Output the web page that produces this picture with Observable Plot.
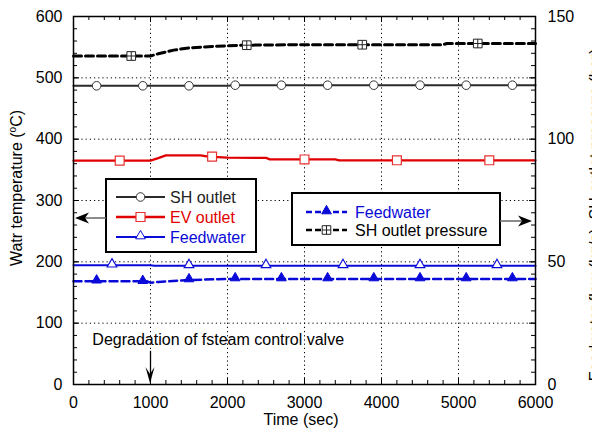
<!DOCTYPE html>
<html><head><meta charset="utf-8">
<script src="https://cdn.jsdelivr.net/npm/d3@7"></script>
<script src="https://cdn.jsdelivr.net/npm/@observablehq/plot@0.6"></script>
<style>
html,body{margin:0;padding:0;background:#fff;}
#chart{position:relative;width:592px;height:430px;overflow:hidden;}
</style></head><body><div id="chart"></div>
<script>
// ---- data ----
const xTicks = [0, 1000, 2000, 3000, 4000, 5000, 6000];
const leftTicks = [0, 100, 200, 300, 400, 500, 600];
const rightTicks = [0, 50, 100, 150];

const shOutTime = [0, 2000, 2100, 6000];
const shOutTemp = [487, 487, 488, 488];
const shOutMarkTime = [300, 900, 1500, 2100, 2700, 3300, 3900, 4500, 5100, 5700];
const shOutMarkTemp = [487, 487, 487, 488, 488, 488, 488, 488, 488, 488];

const evOutTime = [0, 1000, 1100, 1200, 1650, 1750, 2000, 2500, 2550, 3400, 3450, 6000];
const evOutTemp = [365, 365, 369, 373.5, 373.5, 371.5, 370, 369.5, 367, 367, 365.5, 365.5];
const evOutMarkTime = [600, 1800, 3000, 4200, 5400];
const evOutMarkTemp = [365, 371.5, 367, 365.5, 365.5];

const fwTempTime = [0, 1000, 1050, 6000];
const fwTemp = [194.5, 194.5, 193.5, 193.5];
const fwTempMarkTime = [500, 1500, 2500, 3500, 4500, 5500];
const fwTempMarkVal = [194.5, 193.5, 193.5, 193.5, 193.5, 193.5];

// right axis series (right-axis units)
const fwFlowTime = [0, 950, 1000, 1100, 1500, 2000, 6000];
const fwFlow = [42.1, 42.1, 41.5, 41.8, 42.6, 43, 43];
const fwFlowMarkTime = [300, 900, 1500, 2100, 2700, 3300, 3900, 4500, 5100, 5700];
const fwFlowMarkVal = [42.1, 41.9, 42.6, 43, 43, 43, 43, 43, 43, 43];

const shPresTime = [0, 1000, 1100, 1300, 1500, 1800, 2200, 3000, 4800, 4850, 6000];
const shPres = [133.9, 133.9, 134.8, 136.3, 137.2, 137.8, 138.3, 138.5, 138.5, 139, 139];
const shPresMarkTime = [750, 2250, 3750, 5250];
const shPresMarkVal = [133.9, 138.3, 138.5, 139];

const eventTime = [1000];
const eventArrowFrom = [55];
const eventArrowTo = [0];

// ---- layout ----
const W = 592, H = 430, mL = 73, mR = 57, mT = 16, mB = 46;
const plotW = W - mL - mR, plotH = H - mT - mB;
const K = 600 / 150; // right-axis to left-axis units
const FONT = '"Liberation Sans", Arial, Helvetica, sans-serif';

const tbl = (ts, vs, k = 1) => ts.map((t, i) => ({t, v: vs[i] * k}));
const yMinor = d3.range(0, 601, 20);
const yMajor = leftTicks;
const xMinor = d3.range(0, 6001, 200);
const xMajor = xTicks;

const COL_SH = "#2a2a2a", COL_EV = "#e00000", COL_BLUE = "#0a0ad8";

const crossSquare = {
  draw(ctx, size) {
    const r = Math.sqrt(size) / 2;
    ctx.moveTo(-r, -r); ctx.lineTo(r, -r); ctx.lineTo(r, r); ctx.lineTo(-r, r); ctx.closePath();
    ctx.moveTo(-r, 0); ctx.lineTo(r, 0);
    ctx.moveTo(0, -r); ctx.lineTo(0, r);
  }
};

const plot = Plot.plot({
  width: W, height: H,
  marginLeft: mL, marginRight: mR, marginTop: mT, marginBottom: mB,
  style: {fontSize: "16px", fontFamily: FONT, background: "#fff", color: "#000"},
  x: {domain: [0, 6000], axis: null},
  y: {domain: [0, 600], axis: null},
  marks: [
    Plot.gridY(leftTicks.filter(d => d > 0 && d < 600), {stroke: "#000", strokeOpacity: 1, strokeWidth: 1, strokeDasharray: "1.2,3"}),
    Plot.gridX(xTicks.filter(d => d > 0 && d < 6000), {stroke: "#000", strokeOpacity: 1, strokeWidth: 1, strokeDasharray: "1.2,3"}),
    // inward ticks
    Plot.tickY(yMinor, {y: d => d, insetRight: plotW - 4, stroke: "#000"}),
    Plot.tickY(yMinor, {y: d => d, insetLeft: plotW - 4, stroke: "#000"}),
    Plot.tickY(yMajor, {y: d => d, insetRight: plotW - 6, stroke: "#000"}),
    Plot.tickY(yMajor, {y: d => d, insetLeft: plotW - 6, stroke: "#000"}),
    Plot.tickX(xMinor, {x: d => d, insetTop: plotH - 4, stroke: "#000"}),
    Plot.tickX(xMinor, {x: d => d, insetBottom: plotH - 4, stroke: "#000"}),
    Plot.tickX(xMajor, {x: d => d, insetTop: plotH - 6, stroke: "#000"}),
    Plot.tickX(xMajor, {x: d => d, insetBottom: plotH - 6, stroke: "#000"}),
    // series lines
    Plot.line(tbl(shPresTime, shPres, K), {x: "t", y: "v", stroke: "#000", strokeWidth: 3, strokeDasharray: "8,4"}),
    Plot.line(tbl(shOutTime, shOutTemp), {x: "t", y: "v", stroke: COL_SH, strokeWidth: 2}),
    Plot.line(tbl(evOutTime, evOutTemp), {x: "t", y: "v", stroke: COL_EV, strokeWidth: 2.3}),
    Plot.line(tbl(fwTempTime, fwTemp), {x: "t", y: "v", stroke: COL_BLUE, strokeWidth: 2}),
    Plot.line(tbl(fwFlowTime, fwFlow, K), {x: "t", y: "v", stroke: COL_BLUE, strokeWidth: 2.5, strokeDasharray: "8,4"}),
    // markers
    Plot.dot(tbl(shPresMarkTime, shPresMarkVal, K), {x: "t", y: "v", symbol: crossSquare, r: 4.9, fill: "#fff", stroke: "#222", strokeWidth: 1}),
    Plot.dot(tbl(shOutMarkTime, shOutMarkTemp), {x: "t", y: "v", symbol: "circle", r: 4.3, fill: "#fff", stroke: "#333", strokeWidth: 1}),
    Plot.dot(tbl(evOutMarkTime, evOutMarkTemp), {x: "t", y: "v", symbol: "square", r: 5, fill: "#fff", stroke: "#e83030", strokeWidth: 1.2}),
    Plot.dot(tbl(fwTempMarkTime, fwTempMarkVal), {x: "t", y: "v", symbol: "triangle", r: 3.6, fill: "#fff", stroke: COL_BLUE, strokeWidth: 1.1, dy: -1}),
    Plot.dot(tbl(fwFlowMarkTime, fwFlowMarkVal, K), {x: "t", y: "v", symbol: "triangle", r: 3.6, fill: COL_BLUE, stroke: COL_BLUE, strokeWidth: 1, dy: -1}),
    // axes labels
    Plot.axisX(xTicks, {anchor: "bottom", tickSize: 0, tickPadding: 12, label: null, fontSize: 16, tickFormat: d3.format("d")}),
    Plot.axisY(leftTicks, {anchor: "left", tickSize: 0, tickPadding: 11, label: null, fontSize: 16, tickFormat: d3.format("d")}),
    Plot.axisY(rightTicks.map(v => v * K), {anchor: "right", tickSize: 0, tickPadding: 12, label: null, fontSize: 16, tickFormat: d => String(d / K)}),
    // annotation
    Plot.text(["Degradation of fsteam control valve"], {x: 245, y: 72, text: d => d, textAnchor: "start", fontSize: 16, fill: "#000"}),
    Plot.link(eventTime, {x1: d => d, x2: d => d, y1: eventArrowFrom[0], y2: eventArrowTo[0] + 6, stroke: "#000", strokeWidth: 1.3}),
    Plot.frame({stroke: "#000", strokeWidth: 1.5})
  ]
});

document.getElementById("chart").appendChild(plot);
const svg = d3.select(plot);
const xs = plot.scale("x"), ys = plot.scale("y");

// down arrow head at event
{
  const ex = xs.apply(eventTime[0]), ey = ys.apply(eventArrowTo[0]);
  svg.append("path").attr("d", `M${ex - 4.5},${ey - 17} L${ex},${ey - 1} L${ex + 4.5},${ey - 17} L${ex},${ey - 10} Z`).attr("fill", "#000");
}

// axis titles
const ylab = svg.append("text").attr("transform", "translate(22,188) rotate(-90)")
  .attr("text-anchor", "middle").attr("font-size", 16).attr("font-family", FONT).attr("fill", "#000");
ylab.append("tspan").text("Watr temperature (");
ylab.append("tspan").text("o").attr("font-size", 10).attr("dy", -6);
ylab.append("tspan").text("C)").attr("dy", 6);

svg.append("text").attr("x", 301).attr("y", 425).attr("text-anchor", "middle")
  .attr("font-size", 16).attr("font-family", FONT).attr("fill", "#000").text("Time (sec)");

// right-axis title (mostly outside the image, as in the reference)
svg.append("text").attr("transform", "translate(601,215) rotate(-90)")
  .attr("text-anchor", "middle").attr("font-size", 16).attr("font-family", FONT).attr("fill", "#000")
  .text("Feedwater flow (kg/s), SH outlet pressure (bar)");

// legends
function legend(x, y, w, h, rows, lx1, lx2, tx, rowY) {
  const g = svg.append("g").attr("text-anchor", "start");
  g.append("rect").attr("x", x).attr("y", y).attr("width", w).attr("height", h)
    .attr("fill", "#fff").attr("stroke", "#000").attr("stroke-width", 2);
  rows.forEach((r, i) => {
    const yy = rowY[i];
    g.append("line").attr("x1", lx1).attr("x2", lx2).attr("y1", yy).attr("y2", yy)
      .attr("stroke", r.stroke).attr("stroke-width", r.width).attr("stroke-dasharray", r.dash || null);
    const mx = (lx1 + lx2) / 2;
    const sym = g.append("path").attr("transform", `translate(${mx},${yy + (r.dy || 0)})`)
      .attr("fill", r.mfill).attr("stroke", r.mstroke).attr("stroke-width", r.mw || 1);
    if (r.sym === "cross") {
      const s = 4.3;
      sym.attr("d", `M${-s},${-s}H${s}V${s}H${-s}Z M${-s},0H${s} M0,${-s}V${s}`);
    } else {
      sym.attr("d", d3.symbol(r.sym, r.size)());
    }
    g.append("text").attr("x", tx).attr("y", yy).attr("dy", "0.36em").attr("font-size", 16)
      .attr("text-anchor", "start").attr("font-family", FONT).attr("fill", r.color).text(r.label);
  });
}
legend(106, 179, 150, 73, [
  {label: "SH outlet", stroke: COL_SH, width: 2, sym: d3.symbolCircle, size: Math.PI * 4.3 * 4.3, mfill: "#fff", mstroke: "#333", color: "#222"},
  {label: "EV outlet", stroke: COL_EV, width: 2.3, sym: d3.symbolSquare, size: 81, mfill: "#fff", mstroke: "#e83030", mw: 1.2, color: COL_EV},
  {label: "Feedwater", stroke: COL_BLUE, width: 2, sym: d3.symbolTriangle, size: Math.PI * 3.6 * 3.6, mfill: "#fff", mstroke: COL_BLUE, dy: -1, color: COL_BLUE}
], 116, 165, 170, [197, 217, 237]);
legend(292, 193, 208, 52, [
  {label: "Feedwater", stroke: COL_BLUE, width: 2.5, dash: "6,3", sym: d3.symbolTriangle, size: Math.PI * 3.6 * 3.6, mfill: COL_BLUE, mstroke: COL_BLUE, dy: -1, color: COL_BLUE},
  {label: "SH outlet pressure", stroke: "#000", width: 2.5, dash: "6,3", sym: "cross", mfill: "#fff", mstroke: "#222", color: "#000"}
], 306, 347, 355, [212, 230]);

// legend arrows
svg.append("line").attr("x1", 106).attr("x2", 84).attr("y1", 218).attr("y2", 218).attr("stroke", "#666").attr("stroke-width", 1.5);
svg.append("path").attr("d", "M89,212.5 L75,218 L89,223.5 L85,218 Z").attr("fill", "#000");
svg.append("line").attr("x1", 500).attr("x2", 523).attr("y1", 221).attr("y2", 221).attr("stroke", "#666").attr("stroke-width", 1.5);
svg.append("path").attr("d", "M518,215.5 L532,221 L518,226.5 L522,221 Z").attr("fill", "#000");
</script></body></html>
